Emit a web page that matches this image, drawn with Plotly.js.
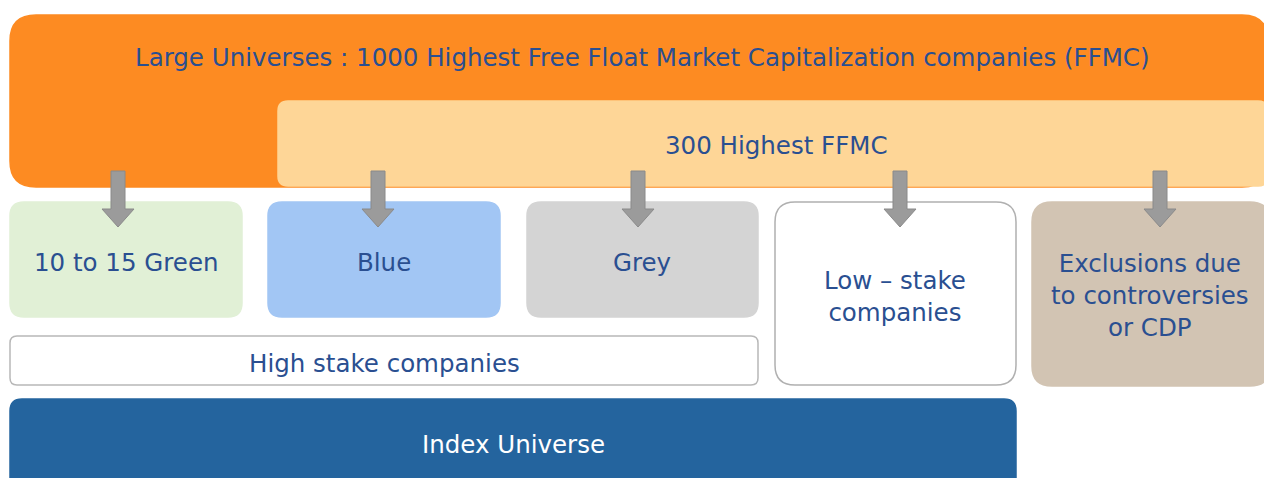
<!DOCTYPE html>
<html>
<head>
<meta charset="utf-8">
<script src="https://cdn.plot.ly/plotly-3.0.1.min.js"></script>
<style>
  html, body { margin: 0; padding: 0; background: #ffffff; }
  #chart { width: 1264px; height: 478px; }
</style>
</head>
<body>
<div id="chart"></div>
<script>
// Diagram content
const universeLabels = [
  "Large Universes : 1000 Highest Free Float Market Capitalization companies (FFMC)",
  "300 Highest FFMC"
];
const categoryLabels = [
  "10 to 15 Green",
  "Blue",
  "Grey",
  "Low \u2013 stake<br>companies",
  "Exclusions due<br>to controversies<br>or CDP"
];
const groupLabels = ["High stake companies", "Index Universe"];

// Layout of the boxes (pixel space, y grows downwards)
const textColor = "#2a4f91";
const boxes = [
  { x0: 10, x1: 1268, y0: 15, y1: 187, r: 26, fill: "#fd8b22", line: "#fd8b22", text: universeLabels[0], tx: 642, ty: 57, font: textColor },
  { x0: 278, x1: 1268, y0: 101, y1: 186, r: 10, fill: "#fed697", line: "#fed697", text: universeLabels[1], tx: 776, ty: 145, font: textColor },
  { x0: 10, x1: 242, y0: 202, y1: 317, r: 14, fill: "#e1f0d6", line: "#e1f0d6", text: categoryLabels[0], tx: 126, ty: 262, font: textColor },
  { x0: 268, x1: 500, y0: 202, y1: 317, r: 14, fill: "#a2c6f4", line: "#a2c6f4", text: categoryLabels[1], tx: 384, ty: 262, font: textColor },
  { x0: 527, x1: 758, y0: 202, y1: 317, r: 14, fill: "#d4d4d4", line: "#d4d4d4", text: categoryLabels[2], tx: 642, ty: 262, font: textColor },
  { x0: 775, x1: 1016, y0: 202, y1: 385, r: 20, fill: "#ffffff", line: "#b0b0b0", text: categoryLabels[3], tx: 895, ty: 296, font: textColor },
  { x0: 1032, x1: 1270, y0: 202, y1: 386, r: 20, fill: "#d2c4b3", line: "#d2c4b3", text: categoryLabels[4], tx: 1150, ty: 295, font: textColor },
  { x0: 10, x1: 758, y0: 336, y1: 385, r: 7, fill: "#ffffff", line: "#b8b8b8", text: groupLabels[0], tx: 384, ty: 363, font: textColor },
  { x0: 10, x1: 1016, y0: 399, y1: 490, r: 12, fill: "#24649e", line: "#24649e", text: groupLabels[1], tx: 513, ty: 444, font: "#ffffff" }
];
const arrowCenters = [118, 378, 638, 900, 1160];

function roundRect(b) {
  const { x0, x1, y0, y1, r } = b;
  return `M${x0 + r},${y0} L${x1 - r},${y0} Q${x1},${y0} ${x1},${y0 + r} ` +
    `L${x1},${y1 - r} Q${x1},${y1} ${x1 - r},${y1} L${x0 + r},${y1} ` +
    `Q${x0},${y1} ${x0},${y1 - r} L${x0},${y0 + r} Q${x0},${y0} ${x0 + r},${y0} Z`;
}

function arrowPath(c) {
  return `M${c - 7},171 L${c + 7},171 L${c + 7},209 L${c + 16},209 L${c},227 ` +
    `L${c - 16},209 L${c - 7},209 Z`;
}

const shapes = [];
const annotations = [];

boxes.forEach(b => {
  shapes.push({
    type: "path", xref: "x", yref: "y", path: roundRect(b),
    fillcolor: b.fill, line: { color: b.line, width: 1.5 }, layer: "below"
  });
  annotations.push({
    x: b.tx, y: b.ty, xref: "x", yref: "y", text: b.text, showarrow: false,
    font: { family: "DejaVu Sans", size: 24.5, color: b.font },
    align: "center", xanchor: "center", yanchor: "middle"
  });
});

arrowCenters.forEach(c => {
  shapes.push({
    type: "path", xref: "x", yref: "y", path: arrowPath(c),
    fillcolor: "#9b9b9b", line: { color: "#8a8a8a", width: 1 }, layer: "above"
  });
});

const layout = {
  width: 1264,
  height: 478,
  margin: { l: 0, r: 0, t: 0, b: 0 },
  paper_bgcolor: "#ffffff",
  plot_bgcolor: "#ffffff",
  showlegend: false,
  xaxis: { range: [0, 1264], visible: false, fixedrange: true },
  yaxis: { range: [478, 0], visible: false, fixedrange: true },
  shapes: shapes,
  annotations: annotations
};

Plotly.newPlot("chart", [], layout, { staticPlot: true });
</script>
</body>
</html>
